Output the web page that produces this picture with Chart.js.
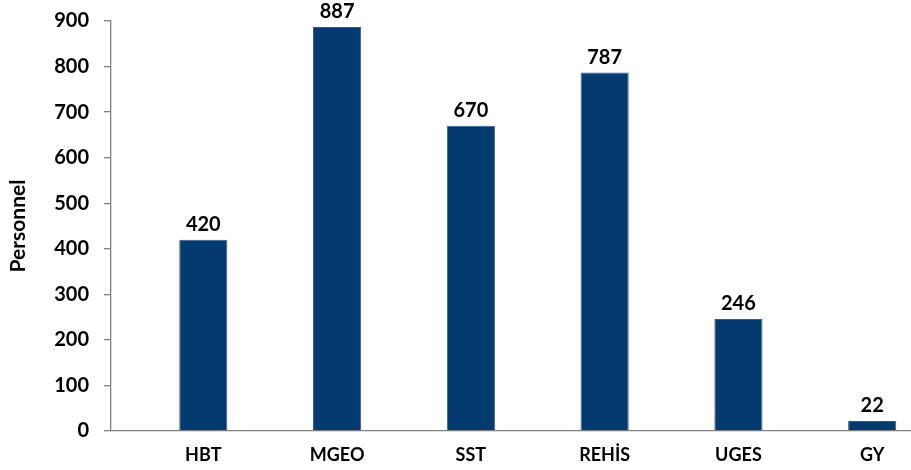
<!DOCTYPE html>
<html>
<head>
<meta charset="utf-8">
<script src="https://cdn.jsdelivr.net/npm/chart.js@4/dist/chart.umd.min.js"></script>
<style>
  html, body { margin: 0; padding: 0; background: #fff; }
  #wrap { width: 911px; height: 470px; }
</style>
</head>
<body>
<div id="wrap"><canvas id="staff-chart"></canvas></div>
<script>
// data
const units = ["HBT", "MGEO", "SST", "REHİS", "UGES", "GY"];
const staff = [420, 887, 670, 787, 246, 22];
const yTicks = [0, 100, 200, 300, 400, 500, 600, 700, 800, 900];

const fontFam = "Lato, 'Open Sans', sans-serif";

// value labels above the bars
const barLabels = {
  id: 'barLabels',
  afterDatasetsDraw(chart) {
    const ctx = chart.ctx;
    const meta = chart.getDatasetMeta(0);
    ctx.save();
    ctx.font = "bold 20px " + fontFam;
    ctx.fillStyle = '#000';
    ctx.textAlign = 'center';
    ctx.textBaseline = 'bottom';
    meta.data.forEach((bar, i) => {
      ctx.fillText(String(staff[i]), bar.x, bar.y - 5);
    });
    ctx.restore();
  }
};

const staffCanvas = document.getElementById('staff-chart');
let staffChart = new Chart(staffCanvas, {
  type: 'bar',
  data: {
    labels: units,
    datasets: [{
      data: staff,
      backgroundColor: '#033a6f',
      borderColor: '#4b5868',
      borderWidth: 1,
      barPercentage: 0.36,
      categoryPercentage: 1
    }]
  },
  options: {
    responsive: true,
    maintainAspectRatio: false,
    animation: { duration: 0 },
    layout: { padding: { top: 21, right: 0, left: 4, bottom: 0 } },
    scales: {
      x: {
        afterFit: axis => {
          axis.height = 39;
          axis.paddingLeft = 0;
          axis.paddingRight = 0;
        },
        // the original plot is cut off on the right, so the visible
        // category range runs from about -0.69 to 5.29
        afterBuildTicks: axis => { axis._startValue = -0.69; axis._valueRange = 5.98; },
        grid: { display: false, drawTicks: false },
        border: { display: true, color: '#808080', width: 1.3 },
        ticks: {
          color: '#000',
          padding: 13,
          font: { family: fontFam, size: 18, weight: 'bold' }
        }
      },
      y: {
        min: 0,
        max: 900,
        afterFit: axis => {
          axis.width = 107;
          axis.paddingTop = 0;
          axis.paddingBottom = 0;
        },
        afterBuildTicks: axis => { axis.ticks = yTicks.map(v => ({ value: v })); },
        grid: { drawOnChartArea: false, tickLength: 7, color: '#808080', lineWidth: 1.3 },
        border: { display: true, color: '#808080', width: 1.3 },
        ticks: {
          color: '#000',
          padding: 15,
          font: { family: fontFam, size: 20, weight: 'bold' }
        },
        title: {
          display: true,
          text: 'Personnel',
          color: '#000',
          padding: { top: 2, bottom: 0 },
          font: { family: fontFam, size: 21, weight: 'bold' }
        }
      }
    },
    plugins: {
      legend: { display: false },
      tooltip: { enabled: false }
    }
  },
  plugins: [barLabels]
});
</script>
</body>
</html>
